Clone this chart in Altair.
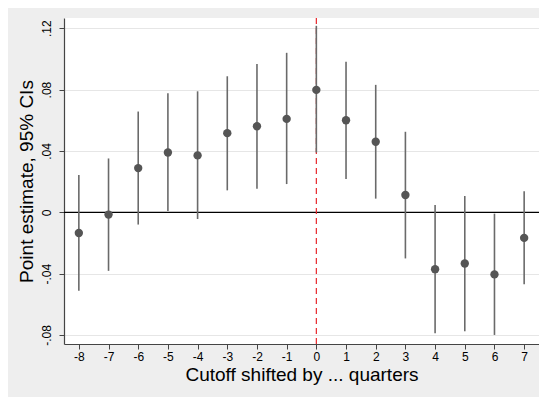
import altair as alt
import pandas as pd

shift = [-8, -7, -6, -5, -4, -3, -2, -1, 0, 1, 2, 3, 4, 5, 6, 7]
estimate = [-0.0135, -0.0015, 0.0288, 0.0390, 0.0371, 0.0516, 0.0561, 0.0609,
            0.0798, 0.0600, 0.0460, 0.0113, -0.0371, -0.0334, -0.0405, -0.0167]
ci_low = [-0.0512, -0.0382, -0.0080, 0.0009, -0.0044, 0.0143, 0.0154, 0.0184,
          0.0390, 0.0217, 0.0089, -0.0301, -0.0789, -0.0776, -0.0800, -0.0470]
ci_high = [0.0243, 0.0351, 0.0657, 0.0776, 0.0789, 0.0887, 0.0967, 0.1040,
           0.1216, 0.0982, 0.0831, 0.0525, 0.0048, 0.0106, -0.0009, 0.0137]

x_ticks = list(range(-8, 8))
y_ticks = [-0.08, -0.04, 0, 0.04, 0.08, 0.12]

df = pd.DataFrame({"shift": shift, "est": estimate, "lo": ci_low, "hi": ci_high})

FONT = "Liberation Sans"
xscale = alt.Scale(domain=[-8.5, 7.5], nice=False, zero=False)
yscale = alt.Scale(domain=[-0.0859, 0.1267], nice=False, zero=False)

xaxis = alt.Axis(values=x_ticks, title="Cutoff shifted by ... quarters", grid=False,
                 labelExpr="toString(datum.value)",
                 tickSize=5, tickColor="#444444", domainColor="#444444", domainWidth=1.2,
                 labelFontSize=12, labelColor="#000000", labelPadding=2,
                 titleFontSize=19, titleFontWeight="normal", titleColor="#000000",
                 titlePadding=3, labelFont=FONT, titleFont=FONT)
yaxis = alt.Axis(values=y_ticks, title="Point estimate, 95% CIs",
                 labelExpr="datum.value == 0 ? '0' : (datum.value < 0 ? '-' : '') + '.' + format(round(abs(datum.value) * 100), '02d')",
                 grid=True, gridColor="#e6e6e6", gridWidth=1.2,
                 tickSize=5, tickColor="#444444", domainColor="#444444", domainWidth=1.2,
                 labelFontSize=12, labelColor="#000000", labelAngle=270,
                 labelAlign="center", labelBaseline="bottom", labelPadding=6,
                 titleFontSize=19, titleFontWeight="normal", titleColor="#000000",
                 titlePadding=4, labelFont=FONT, titleFont=FONT)

base = alt.Chart(df)

zero_line = alt.Chart(pd.DataFrame({"y": [0]})).mark_rule(color="#000000", strokeWidth=1.3).encode(
    y=alt.Y("y:Q", scale=yscale, axis=yaxis)
)
vline = alt.Chart(pd.DataFrame({"x": [0]})).mark_rule(
    color="#e8262a", strokeWidth=1.2, strokeDash=[6, 4]
).encode(x=alt.X("x:Q", scale=xscale, axis=xaxis))

bars = base.mark_rule(color="#6a6a6a", strokeWidth=1.6).encode(
    x=alt.X("shift:Q", scale=xscale, axis=xaxis),
    y=alt.Y("lo:Q", scale=yscale, axis=yaxis),
    y2="hi:Q",
)
points = base.mark_circle(color="#555555", size=70, opacity=1).encode(
    x=alt.X("shift:Q", scale=xscale, axis=xaxis),
    y=alt.Y("est:Q", scale=yscale, axis=yaxis),
)

chart = alt.layer(zero_line, vline, bars, points).properties(
    width=475, height=326,
    background="#eeeeee",
    padding={"left": 56, "top": 10, "right": 0, "bottom": 53},
    autosize=alt.AutoSizeParams(type="none"),
).configure_view(fill="#ffffff", stroke=None)

chart.save("out.html", embed_options={"renderer": "svg", "actions": False})
